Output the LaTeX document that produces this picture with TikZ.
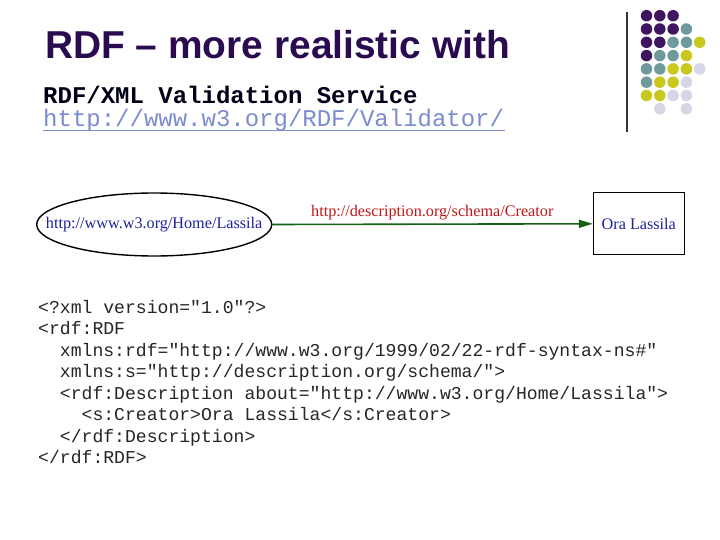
\documentclass[tikz,border=0pt]{standalone}
\usepackage{fontspec}
\setmainfont{Liberation Serif}
\newfontfamily\arialf{Liberation Sans}
\newfontfamily\courf{Liberation Mono}
\usetikzlibrary{shapes.geometric,arrows.meta}
\definecolor{titlepurple}{HTML}{2B0B50}
\definecolor{dpurple}{HTML}{3F1560}
\definecolor{dteal}{HTML}{6E9A9C}
\definecolor{dyellow}{HTML}{C8C81E}
\definecolor{dlav}{HTML}{D6D6E6}
\definecolor{urlblue}{HTML}{7B8CCF}
\definecolor{nodeblue}{HTML}{2020A0}
\definecolor{edgered}{HTML}{C01818}
\definecolor{edgegreen}{HTML}{186018}
\tikzset{
  dot/.style={circle,inner sep=0pt,minimum size=11.5bp,fill=#1},
  codeline/.style={anchor=base west,inner sep=0pt,font=\courf\fontsize{18.1bp}{18bp}\selectfont,text=black!85},
  gtext/.style={font=\fontsize{16.2bp}{16bp}\selectfont}
}
\begin{document}
\begin{tikzpicture}[x=1bp,y=-1bp]
\useasboundingbox[fill=white] (0,0) rectangle (720,540);
% decoration
\draw[line width=1.3bp,black!80] (627,12) -- (627,132);
\foreach \r/\cols in {0/{0/dpurple,1/dpurple,2/dpurple},
  1/{0/dpurple,1/dpurple,2/dpurple,3/dteal},
  2/{0/dpurple,1/dpurple,2/dteal,3/dteal,4/dyellow},
  3/{0/dpurple,1/dteal,2/dteal,3/dyellow},
  4/{0/dteal,1/dteal,2/dyellow,3/dyellow,4/dlav},
  5/{0/dteal,1/dyellow,2/dyellow,3/dlav},
  6/{0/dyellow,1/dyellow,2/dlav,3/dlav},
  7/{1/dlav,3/dlav}}{
  \foreach \c/\col in \cols {
    \node[dot=\col] (d\r\c) at (646.5+13.3*\c,15.7+13.3*\r) {};
  }
}
% title
\node[anchor=base west,inner sep=0pt,text=titlepurple,font=\arialf\bfseries\fontsize{38.9bp}{40bp}\selectfont] (title) at (45,58.3) {RDF – more realistic with};
\node[anchor=base west,inner sep=0pt,text=black!90!blue,font=\courf\bfseries\fontsize{24bp}{26bp}\selectfont] (sub) at (43,103.3) {RDF/XML Validation Service};
\node[anchor=base west,inner sep=0pt,text=urlblue,font=\courf\fontsize{24bp}{26bp}\selectfont] (url) at (43,126.7) {http://www.w3.org/RDF/Validator/};
\draw[urlblue,line width=1.2bp] (43,130.5) -- (505,130.5);
% graph
\node[inner sep=0pt,text=nodeblue,gtext] (subj) at (154.2,224.5) {http://www.w3.org/Home/Lassila};
\draw[line width=1.4bp] (subj.center) ellipse [x radius=117.5bp, y radius=31.5bp];
\coordinate (subjE) at (271.7,224.5);
\node[draw,line width=1bp,minimum width=91bp,minimum height=62bp,inner sep=0pt,text=nodeblue,gtext] (obj) at (638.8,223.8) {Ora Lassila};
\draw[edgegreen,line width=1.6bp,-{Triangle[length=14bp,width=8bp]}] (subjE) -- (obj.west)
  node[pos=0.5,above=3bp,text=edgered,gtext,inner sep=0pt] (lbl) {http://description.org/schema/Creator};
% code
\node[codeline] (c1) at (38,313) {<?xml version="1.0"?>};
\node[codeline] (c2) at (38,334.5) {<rdf:RDF};
\node[codeline] (c3) at (38,356) {\ \ xmlns:rdf="http://www.w3.org/1999/02/22-rdf-syntax-ns\#"};
\node[codeline] (c4) at (38,377.5) {\ \ xmlns:s="http://description.org/schema/">};
\node[codeline] (c5) at (38,399) {\ \ <rdf:Description about="http://www.w3.org/Home/Lassila">};
\node[codeline] (c6) at (38,420.5) {\ \ \ \ <s:Creator>Ora Lassila</s:Creator>};
\node[codeline] (c7) at (38,442) {\ \ </rdf:Description>};
\node[codeline] (c8) at (38,463.5) {</rdf:RDF>};
\end{tikzpicture}
\end{document}
